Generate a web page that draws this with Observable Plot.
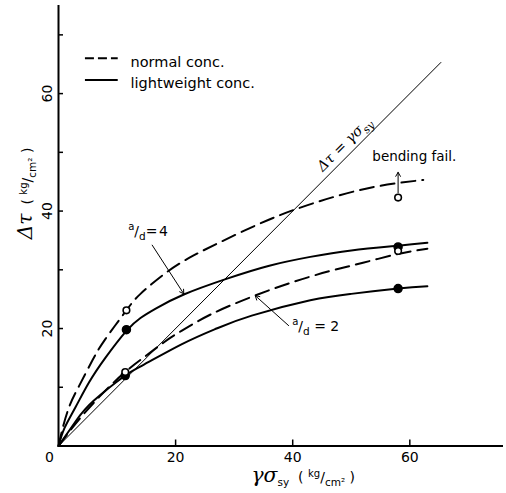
<!DOCTYPE html>
<html><head><meta charset="utf-8">
<script src="https://cdn.jsdelivr.net/npm/d3@7"></script>
<script src="https://cdn.jsdelivr.net/npm/@observablehq/plot@0.6"></script>
<style>
html,body{margin:0;padding:0;background:#fff;}
#chart svg{display:block;}
</style></head><body><div id="chart"></div>
<script>
// ---- data ----
// normal concrete, a/d = 4 (dashed)
const normal4X = [0, 0.6, 1.8, 3.5, 5.8, 8, 11.6, 14, 18.5, 23, 27.6, 34, 40.2, 47, 54.4, 62.3];
const normal4Y = [0, 2.6, 6.6, 10.2, 14.6, 18.2, 23.1, 25.9, 29.6, 32.4, 34.7, 37.7, 40.2, 42.4, 44.2, 45.3];
// lightweight concrete, a/d = 4 (solid)
const light4X = [0, 1, 2.9, 5.2, 8, 11.6, 14, 16.6, 21.4, 28.8, 36, 43, 50, 58, 63];
const light4Y = [0, 3, 6.6, 10.8, 15.0, 19.6, 21.8, 23.4, 25.8, 28.5, 30.7, 32.2, 33.3, 34.1, 34.6];
// normal concrete, a/d = 2 (dashed)
const normal2X = [0, 3, 7, 11.4, 15, 18.2, 21, 26, 33, 40, 46.4, 52, 58, 63];
const normal2Y = [0, 3.9, 8.4, 12.6, 15.4, 17.8, 19.6, 22.4, 25.4, 27.9, 29.8, 31.2, 32.7, 33.6];
// lightweight concrete, a/d = 2 (solid)
const light2X = [0, 3, 6, 11.4, 14.3, 21, 27, 33, 43, 50, 58, 63];
const light2Y = [0, 4.3, 7.7, 12.0, 13.7, 17.3, 20.0, 22.2, 24.8, 25.9, 26.8, 27.2];
// line  Δτ = γσsy
const diagX = [0, 65.3];
// test points
const filledX = [11.6, 11.4, 58, 58];
const filledY = [19.8, 12.0, 33.9, 26.8];
const openX = [11.6, 11.4, 58, 58];
const openY = [23.1, 12.6, 33.2, 42.3];
// axis ticks and labels
const xTickValues = [20, 40, 60];
const yTickValues = [10, 20, 30, 40, 50, 60, 70];
const xTickLabels = [20, 40, 60];
const yTickLabels = [20, 40, 60];
const legendLabels = ["normal conc.", "lightweight conc."];

// ---- tables built from the arrays ----
const zipXY = (xs, ys) => xs.map((x, i) => ({x, y: ys[i]}));
const normal4 = zipXY(normal4X, normal4Y);
const light4 = zipXY(light4X, light4Y);
const normal2 = zipXY(normal2X, normal2Y);
const light2 = zipXY(light2X, light2Y);
const diag = diagX.map(v => ({x: v, y: v}));
const filled = zipXY(filledX, filledY);
const open = zipXY(openX, openY);

// annotation anchors (data units)
const legendRows = [
  {label: legendLabels[0], x1: 4.6, x2: 10.2, y: 66.0, ty: 65.3},
  {label: legendLabels[1], x1: 4.6, x2: 10.2, y: 62.3, ty: 61.7}
];
const arrows = [
  {x1: 16.0, y1: 34.2, x2: 21.4, y2: 25.9},
  {x1: 39.3, y1: 20.5, x2: 33.6, y2: 25.6},
  {x1: 58, y1: 43.1, x2: 58, y2: 46.6}
];
const notes = [
  {x: 11.9, y: 36.6, text: "^{a}/_{d}=\u200a4"},
  {x: 39.9, y: 20.4, text: "^{a}/_{d}\u00a0=\u00a02"}
];

const plot = Plot.plot({
  width: 506,
  height: 493,
  marginLeft: 58,
  marginRight: 3,
  marginTop: 5,
  marginBottom: 47.5,
  style: {fontFamily: "DejaVu Sans", fontSize: "14px", color: "black", background: "white", overflow: "visible"},
  x: {domain: [0, 76], axis: null},
  y: {domain: [0, 75], axis: null},
  marks: [
    // axis lines
    Plot.ruleX([0], {stroke: "black", strokeWidth: 2}),
    Plot.ruleY([0], {stroke: "black", strokeWidth: 2}),
    // inward ticks
    Plot.axisX(xTickValues, {tickSize: 6, dy: -6, fill: "none", label: null, stroke: "black", strokeWidth: 1.5}),
    Plot.axisY(yTickValues, {tickSize: 5, dx: 5, fill: "none", label: null, stroke: "black", strokeWidth: 1.5}),
    // tick labels
    Plot.text(xTickLabels, {x: d => d, y: 0, dy: 12, text: d => String(d), fontSize: 14}),
    Plot.text([0], {x: 0, y: 0, dx: -9, dy: 12, text: d => String(d), fontSize: 14}),
    Plot.text(yTickLabels, {x: 0, y: d => d, dx: -11, rotate: -90, text: d => String(d), fontSize: 14}),
    // axis titles
    Plot.text(["*{Δτ}\u00a0\u00a0(\u00a0^{kg}/_{cm²}\u00a0)"], {x: -5.3, y: 43.0, rotate: -90, text: d => d, fontSize: 14}),
    Plot.text(["*{γσ}_{sy}\u00a0\u00a0(\u00a0^{kg}/_{cm²}\u00a0)"], {x: 41.8, y: -5.4, text: d => d, fontSize: 14}),
    // diagonal reference line
    Plot.line(diag, {x: "x", y: "y", stroke: "black", strokeWidth: 1}),
    Plot.text(["Δτ = γσ_{sy}"], {x: 48.8, y: 51.4, rotate: -45, text: d => d, fontSize: 14.5, fontFamily: "DejaVu Serif", fontStyle: "italic"}),
    // curves
    Plot.line(normal4, {x: "x", y: "y", curve: "natural", stroke: "black", strokeWidth: 2, strokeDasharray: "14,7"}),
    Plot.line(light4, {x: "x", y: "y", curve: "natural", stroke: "black", strokeWidth: 2}),
    Plot.line(normal2, {x: "x", y: "y", curve: "natural", stroke: "black", strokeWidth: 2, strokeDasharray: "14,7"}),
    Plot.line(light2, {x: "x", y: "y", curve: "natural", stroke: "black", strokeWidth: 2}),
    // arrows
    Plot.arrow(arrows, {x1: "x1", y1: "y1", x2: "x2", y2: "y2", stroke: "black", strokeWidth: 1, headLength: 7}),
    // points
    Plot.dot(filled, {x: "x", y: "y", r: 4, fill: "black", stroke: "black"}),
    Plot.dot(open, {x: "x", y: "y", r: 3.3, fill: "white", stroke: "black", strokeWidth: 1.6}),
    // annotations
    Plot.text(notes, {x: "x", y: "y", text: "text", textAnchor: "start", fontSize: 14}),
    Plot.text(["bending fail."], {x: 53.6, y: 49.2, text: d => d, textAnchor: "start", fontSize: 13.5}),
    // legend
    Plot.ruleY(legendRows.slice(0, 1), {y: "y", x1: "x1", x2: "x2", stroke: "black", strokeWidth: 2, strokeDasharray: "9,4"}),
    Plot.ruleY(legendRows.slice(1), {y: "y", x1: "x1", x2: "x2", stroke: "black", strokeWidth: 2}),
    Plot.text(legendRows, {x: 12.3, y: "ty", text: "label", textAnchor: "start", fontSize: 14.5})
  ]
});
document.getElementById("chart").appendChild(plot);

// turn ^{..} _{..} *{..} markup into real sub/superscript tspans
function richify(svg) {
  svg.querySelectorAll("text").forEach(t => {
    const s = t.textContent;
    if (!/[\^_*]\{/.test(s)) return;
    const base = parseFloat(getComputedStyle(t).fontSize) || 14;
    const parts = s.match(/[\^_*]\{[^}]*\}|[^\^_*]+/g);
    while (t.firstChild) t.removeChild(t.firstChild);
    let shift = 0;
    for (const p of parts) {
      const ts = document.createElementNS("http://www.w3.org/2000/svg", "tspan");
      let target = 0, txt = p;
      if (p.length > 2 && p[1] === "{" && "^_*".includes(p[0])) {
        txt = p.slice(2, -1);
        if (p[0] === "^") { target = -0.38 * base; ts.setAttribute("font-size", 0.72 * base); }
        else if (p[0] === "_") { target = 0.3 * base; ts.setAttribute("font-size", 0.75 * base); }
        else { ts.setAttribute("font-size", 1.45 * base); ts.setAttribute("font-style", "italic"); ts.setAttribute("font-family", "DejaVu Serif"); }
      }
      if (target !== shift) ts.setAttribute("dy", target - shift);
      shift = target;
      ts.textContent = txt;
      t.appendChild(ts);
    }
  });
}
richify(plot);
</script>
</body></html>
